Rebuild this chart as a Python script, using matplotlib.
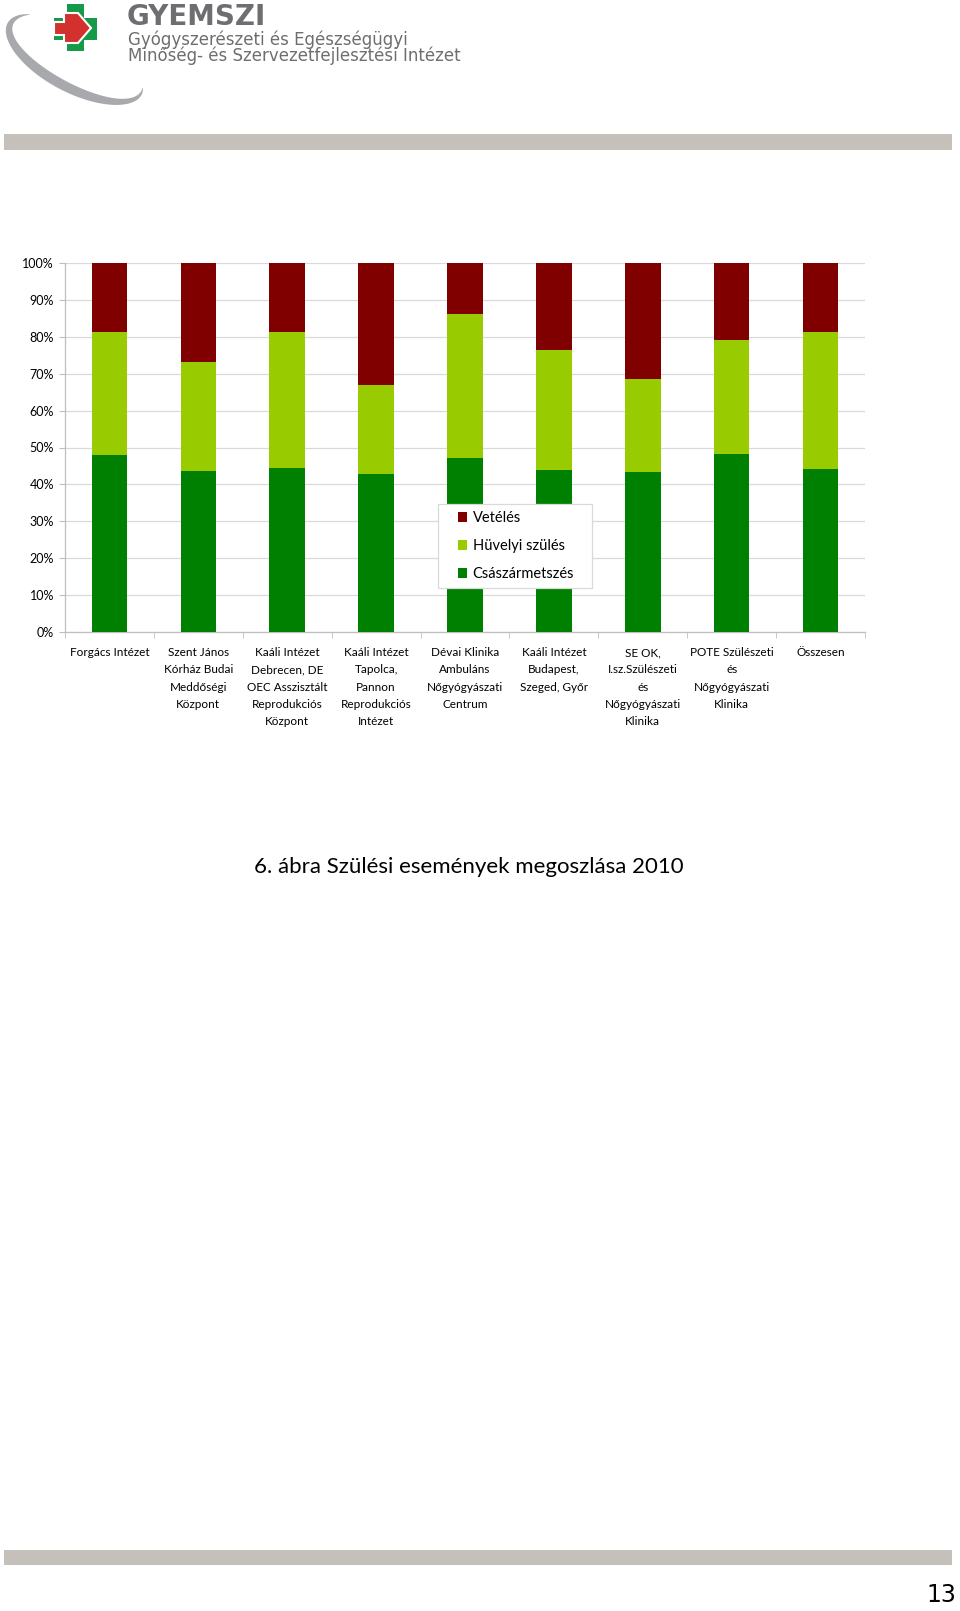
#
# Imports
#
import numpy as np
import matplotlib
matplotlib.use("Agg")
from matplotlib import pyplot as plt
from matplotlib.patches import Rectangle, Polygon

#
# Data
#
categories = [
    "Forgács Intézet",
    "Szent János\nKórház Budai\nMeddőségi\nKözpont",
    "Kaáli Intézet\nDebrecen, DE\nOEC Asszisztált\nReprodukciós\nKözpont",
    "Kaáli Intézet\nTapolca,\nPannon\nReprodukciós\nIntézet",
    "Dévai Klinika\nAmbuláns\nNőgyógyászati\nCentrum",
    "Kaáli Intézet\nBudapest,\nSzeged, Győr",
    "SE OK,\nI.sz.Szülészeti\nés\nNőgyógyászati\nKlinika",
    "POTE Szülészeti\nés\nNőgyógyászati\nKlinika",
    "Összesen",
]
csaszarmetszes = [48.0, 43.6, 44.4, 42.9, 47.1, 43.9, 43.3, 48.3, 44.2]
huvelyi = [33.4, 29.7, 37.0, 24.0, 39.0, 32.4, 25.2, 30.9, 37.2]
veteles = [18.6, 26.7, 18.6, 33.1, 13.9, 23.7, 31.5, 20.8, 18.6]
series_names = ["Császármetszés", "Hüvelyi szülés", "Vetélés"]
yticks = list(range(0, 101, 10))

W, H = 960, 1611

#
# main
#
if __name__ == "__main__":
    plt.rcParams['font.family'] = ['Lato', 'DejaVu Sans']
    fig = plt.figure(figsize=(W / 100, H / 100), dpi=100)

    # page decoration in pixel coordinates
    bg = fig.add_axes([0, 0, 1, 1], zorder=-1)
    bg.set_xlim(0, W)
    bg.set_ylim(H, 0)
    bg.axis('off')

    bg.add_patch(Rectangle((4, 134), 948, 16, color='#c5c1ba', lw=0))
    bg.add_patch(Rectangle((4, 1550), 948, 15, color='#c5c1ba', lw=0))
    bg.text(956, 1607, "13", ha='right', va='bottom', fontsize=17,
            family=['Liberation Sans Narrow', 'DejaVu Sans'], color='black')

    # logo swoosh
    t = np.linspace(np.radians(215), np.radians(-10), 200)
    w = 10 * np.sin(np.pi * (t - t[0]) / (t[-1] - t[0])) ** 0.8
    cx, cy, a, b, ang = 76, 58, 74, 30, np.radians(28)
    ux, uy = np.cos(ang), np.sin(ang)
    vx, vy = -np.sin(ang), np.cos(ang)
    pts_out, pts_in = [], []
    for ti, wi in zip(t, w):
        for sgn, lst in ((1, pts_out), (-1, pts_in)):
            aa, bb = a + sgn * wi / 2, b + sgn * wi / 2
            px = cx + aa * np.cos(ti) * ux + bb * np.sin(ti) * vx
            py = cy + aa * np.cos(ti) * uy + bb * np.sin(ti) * vy
            lst.append((px, py))
    bg.add_patch(Polygon(pts_out + pts_in[::-1], closed=True,
                         color='#a7a9ac', lw=0))

    # cross + arrow
    bg.add_patch(Rectangle((67, 4), 17, 47, color='#149a48', lw=0))
    bg.add_patch(Rectangle((54, 18), 43, 22, color='#149a48', lw=0))
    bg.add_patch(Polygon([(54, 22), (64, 22), (64, 13), (78, 13), (91, 28),
                          (78, 43), (64, 43), (64, 35), (54, 35)],
                         closed=True, facecolor='#d3312e',
                         edgecolor='white', lw=1.5))

    bg.text(127, 25, "GYEMSZI", fontsize=20, fontweight='bold',
            family='DejaVu Sans', color='#6d6e71', va='baseline')
    bg.text(128, 45, "Gyógyszerészeti és Egészségügyi", fontsize=12,
            family='DejaVu Sans', color='#6d6e71', va='baseline')
    bg.text(128, 61, "Minőség- és Szervezetfejlesztési Intézet", fontsize=12,
            family='DejaVu Sans', color='#6d6e71', va='baseline')

    # caption
    bg.text(469, 867, "6. ábra Szülési események megoszlása 2010",
            ha='center', va='center', fontsize=16, color='black')

    # chart
    left, right, top, bottom = 65, 865, 263, 632
    ax = fig.add_axes([left / W, 1 - bottom / H, (right - left) / W,
                       (bottom - top) / H])
    x = np.arange(len(categories))
    cs = np.array(csaszarmetszes)
    hu = np.array(huvelyi)
    ve = np.array(veteles)
    b1 = ax.bar(x, cs, 0.4, color='#008000', label=series_names[0], zorder=3)
    b2 = ax.bar(x, hu, 0.4, bottom=cs, color='#99cc00',
                label=series_names[1], zorder=3)
    b3 = ax.bar(x, ve, 0.4, bottom=cs + hu, color='#800000',
                label=series_names[2], zorder=3)

    ax.set_xlim(-0.5, len(categories) - 0.5)
    ax.set_ylim(0, 100)
    ax.set_yticks(yticks)
    ax.set_yticklabels([f"{v}%" for v in yticks], fontsize=9)
    ax.yaxis.grid(True, color='#d9d9d9', lw=0.9, zorder=0)
    ax.set_xticks(x)
    ax.set_xticklabels(categories, fontsize=8.5, linespacing=1.68, va='top')
    ax.set_xticks(np.arange(len(categories) + 1) - 0.5, minor=True)
    ax.tick_params(axis='x', which='major', length=0, pad=11)
    ax.tick_params(axis='x', which='minor', length=4, color='#bfbfbf')
    ax.tick_params(axis='y', length=4, color='#bfbfbf', pad=4)
    for s in ('top', 'right'):
        ax.spines[s].set_visible(False)
    for s in ('left', 'bottom'):
        ax.spines[s].set_color('#bfbfbf')
        ax.spines[s].set_linewidth(0.9)

    # legend box drawn by hand, entries by the legend
    ax.add_patch(Rectangle((438, 504), 154, 84, transform=bg.transData,
                           facecolor='white', edgecolor='#d9d9d9', lw=0.9,
                           clip_on=False, zorder=4))
    leg = ax.legend([b3, b2, b1], [series_names[2], series_names[1],
                                   series_names[0]],
                    loc='center left', bbox_to_anchor=(458 / W, 1 - 546 / H),
                    bbox_transform=fig.transFigure, borderaxespad=0,
                    borderpad=0, fontsize=10.5, frameon=False,
                    handlelength=0.65, handleheight=0.65, handletextpad=0.35,
                    labelspacing=0.95)
    leg.set_zorder(5)

    plt.savefig("out.png", dpi=100)
